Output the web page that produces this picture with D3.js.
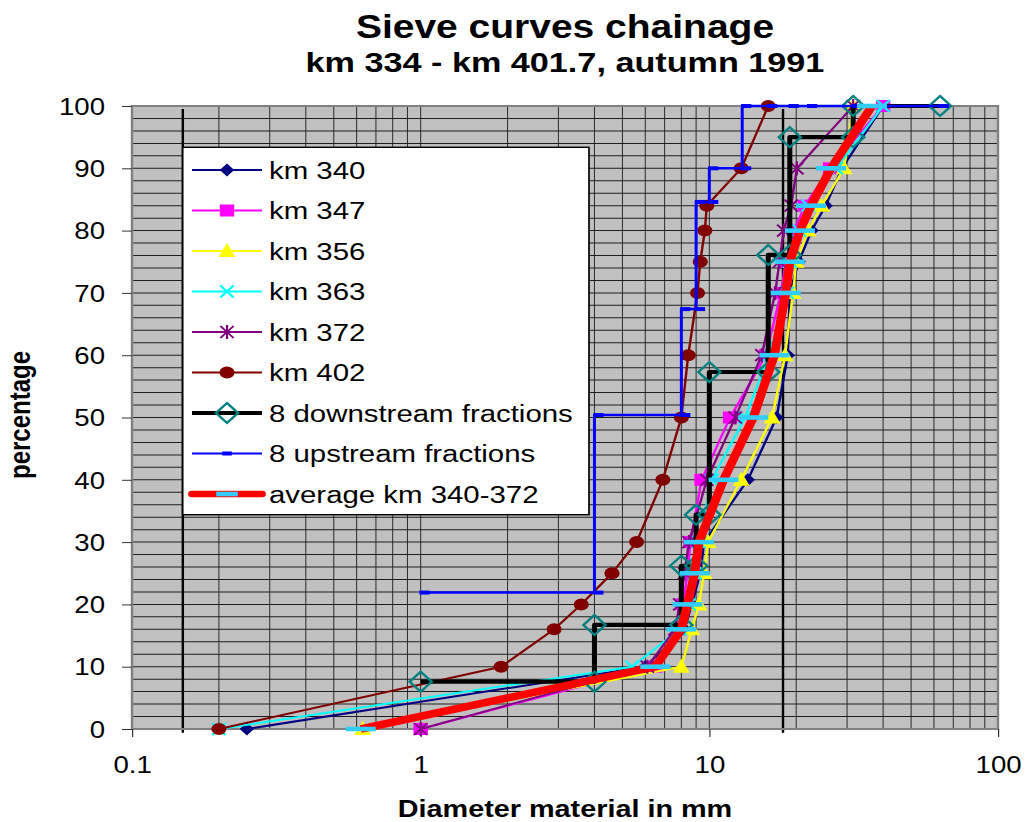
<!DOCTYPE html>
<html>
<head>
<meta charset="utf-8">
<script src="https://cdn.jsdelivr.net/npm/d3@7"></script>
<style>
  body { margin: 0; background: #fff; }
  svg { display: block; }
  text { font-family: Arial, "Liberation Sans", sans-serif; }
</style>
</head>
<body>
<svg id="chart" width="1027" height="822"></svg>
<script>
// Percent passing levels shared by the sieve curves
const levels  = [0, 10, 16, 20, 25, 30, 40, 50, 60, 70, 75, 80, 84, 90, 100];
// Grain diameter (mm) at each level, per chainage
const km340   = [0.25, 6.0, 8.2, 8.7, 9.3, 9.6, 13.6, 17.1, 18.7, 19.0, 20.4, 22.6, 25.3, 28.8, 40];
const km347   = [1.0, 6.5, 7.8, 8.1, 8.4, 8.6, 9.4, 11.8, 15.7, 17.7, 18.4, 19.7, 21.4, 26.2, 40];
const km356   = [0.63, 8.0, 8.7, 9.2, 9.6, 9.9, 12.9, 16.5, 18.3, 19.5, 20.0, 22.0, 24.5, 29.3, 31.5];
const km363   = [0.2, 5.4, 7.9, 8.5, 8.9, 9.2, 10.2, 13.3, 16.1, 18.6, 19.0, 20.5, 22.0, 27.5, 40];
const km372   = [1.0, 6.1, 7.6, 7.9, 8.2, 8.5, 9.8, 12.3, 15.2, 16.9, 17.5, 18.1, 19.2, 20.1, 31.5];
const km402   = [0.2, 1.9, 2.9, 3.6, 4.6, 5.6, 6.9, 8.0, 8.45, 9.1, 9.3, 9.65, 9.8, 12.9, 16];
const average = [0.62, 6.5, 8.0, 8.4, 8.9, 9.2, 11.2, 14.2, 16.8, 18.4, 19.0, 20.6, 22.5, 26.4, 36.6];

// Step curves of the 8 fractions (diameter, cumulative percentage)
const downX = [1, 4, 4, 8, 8, 9, 9, 10, 10, 16, 16, 19, 19, 31.5, 31.5, 63];
const downY = [7.6, 7.6, 16.7, 16.7, 26.2, 26.2, 34.4, 34.4, 57.3, 57.3, 76.1, 76.1, 95, 95, 100, 100];
const upX   = [1, 4, 4, 8, 8, 9, 9, 10, 10, 13, 13, 16, 19, 22, 31.5, 63];
const upY   = [21.9, 21.9, 50.4, 50.4, 67.4, 67.4, 84.6, 84.6, 90, 90, 100, 100, 100, 100, 100, 100];

// Vertical reference lines (mm) and their extent in percent
const limitX = [0.15, 18];
const limitSpan = [-0.6, 99.5];

const xTicks = [0.1, 1, 10, 100];
const yTicks = d3.range(0, 101, 10);

const titleLines = ["Sieve curves chainage", "km 334 - km 401.7, autumn 1991"];
const xTitle = "Diameter material in mm";
const yTitle = "percentage";

// Everything is laid out in a frame that is widened horizontally
const SX = 1.2;
const svg = d3.select("#chart");
const root = svg.append("g").attr("transform", `scale(${SX},1)`);

const L = 132 / SX, R = 998 / SX, T = 106, B = 729;
const x = d3.scaleLog().domain([0.1, 100]).range([L, R]);
const y = d3.scaleLinear().domain([0, 100]).range([B, T]);

// Plot area
root.append("rect").attr("x", L).attr("y", T).attr("width", R - L).attr("height", B - T)
  .attr("fill", "#c0c0c0");

// Grid
const grid = root.append("g").attr("stroke", "#1e1e1e").attr("stroke-width", 1);
grid.selectAll("line.h").data(d3.range(2, 100, 2)).join("line")
  .attr("x1", L).attr("x2", R).attr("y1", d => y(d)).attr("y2", d => y(d));
const minor = [];
[0.1, 1, 10].forEach(dec => { for (let k = 1; k <= 9; k++) minor.push(dec * k); });
grid.selectAll("line.v").data(minor.filter(v => v > 0.1)).join("line")
  .attr("y1", T).attr("y2", B).attr("x1", d => x(d)).attr("x2", d => x(d))
  .attr("stroke-width", 1 / SX);

// Reference verticals
root.selectAll("line.limit").data(limitX).join("line")
  .attr("x1", d => x(d)).attr("x2", d => x(d))
  .attr("y1", y(limitSpan[1])).attr("y2", y(limitSpan[0]))
  .attr("stroke", "#000").attr("stroke-width", 2.4 / SX);

// Border
root.append("rect").attr("x", L).attr("y", T).attr("width", R - L).attr("height", B - T)
  .attr("fill", "none").attr("stroke", "#808080").attr("stroke-width", 2);

// Axes
const yAxis = root.append("g").attr("transform", `translate(${L},0)`)
  .call(d3.axisLeft(y).tickValues(yTicks).tickSize(10 / SX).tickSizeOuter(0).tickPadding(17 / SX));
const xAxis = root.append("g").attr("transform", `translate(0,${B})`)
  .call(d3.axisBottom(x).tickValues(xTicks).tickFormat(d3.format("~g")).tickSize(8).tickSizeOuter(0).tickPadding(20));
[yAxis, xAxis].forEach(a => {
  a.select(".domain").remove();
  a.selectAll(".tick line").attr("stroke", "#333");
  a.selectAll(".tick text").attr("font-size", 23).attr("font-family", "Arial, 'Liberation Sans', sans-serif").attr("fill", "#000");
});
yAxis.selectAll(".tick text").attr("dy", "0.36em");
xAxis.selectAll(".tick text").attr("dy", "0.71em");

// Marker shapes (drawn in the widened frame)
function marker(g, type, cx, cy) {
  switch (type) {
    case "diamond":
      g.append("path").attr("d", `M${cx},${cy - 6.5}L${cx + 6},${cy}L${cx},${cy + 6.5}L${cx - 6},${cy}Z`)
        .attr("fill", "#000080"); break;
    case "square":
      g.append("rect").attr("x", cx - 6).attr("y", cy - 6).attr("width", 12).attr("height", 12)
        .attr("fill", "#ff00ff"); break;
    case "triangle":
      g.append("path").attr("d", `M${cx},${cy - 8}L${cx + 7},${cy + 6}L${cx - 7},${cy + 6}Z`)
        .attr("fill", "#ffff00"); break;
    case "cross":
      g.append("path").attr("d", `M${cx - 5.5},${cy - 6}L${cx + 5.5},${cy + 6}M${cx + 5.5},${cy - 6}L${cx - 5.5},${cy + 6}`)
        .attr("stroke", "#00ffff").attr("stroke-width", 2).attr("fill", "none"); break;
    case "star":
      g.append("path").attr("d", `M${cx - 5.5},${cy - 6}L${cx + 5.5},${cy + 6}M${cx + 5.5},${cy - 6}L${cx - 5.5},${cy + 6}M${cx},${cy - 7}L${cx},${cy + 7}`)
        .attr("stroke", "#800080").attr("stroke-width", 1.8).attr("fill", "none"); break;
    case "circle":
      g.append("ellipse").attr("cx", cx).attr("cy", cy).attr("rx", 6.3).attr("ry", 6)
        .attr("fill", "#800000"); break;
    case "hollow":
      g.append("path").attr("d", `M${cx},${cy - 10}L${cx + 9.2},${cy}L${cx},${cy + 10}L${cx - 9.2},${cy}Z`)
        .attr("stroke", "#008080").attr("stroke-width", 2.2).attr("fill", "none"); break;
    case "dash":
      g.append("rect").attr("x", cx - 1).attr("y", cy - 2).attr("width", 8.5).attr("height", 4)
        .attr("fill", "#0000ff"); break;
    case "bar":
      g.append("rect").attr("x", cx - 12.5).attr("y", cy - 2.3).attr("width", 25).attr("height", 4.6)
        .attr("fill", "#33ccff"); break;
  }
}

const series = [
  { name: "km 340", xs: km340, ys: levels, color: "#000080", width: 2, mark: "diamond" },
  { name: "km 347", xs: km347, ys: levels, color: "#ff00ff", width: 2, mark: "square" },
  { name: "km 356", xs: km356, ys: levels, color: "#ffff00", width: 2, mark: "triangle" },
  { name: "km 363", xs: km363, ys: levels, color: "#00ffff", width: 2, mark: "cross" },
  { name: "km 372", xs: km372, ys: levels, color: "#800080", width: 2, mark: "star" },
  { name: "km 402", xs: km402, ys: levels, color: "#800000", width: 2, mark: "circle" },
  { name: "8 downstream fractions", xs: downX, ys: downY, color: "#000000", width: 4.2, mark: "hollow" },
  { name: "8 upstream fractions", xs: upX, ys: upY, color: "#0000ff", width: 2.5, mark: "dash" },
  { name: "average km 340-372", xs: average, ys: levels, color: "#ff0000", width: 7.5, mark: "bar" }
];

const line = d3.line().x(d => x(d[0])).y(d => y(d[1]));
series.forEach(s => {
  const pts = d3.zip(s.xs, s.ys);
  const g = root.append("g");
  g.append("path").attr("d", line(pts)).attr("fill", "none")
    .attr("stroke", s.color).attr("stroke-width", s.width).attr("stroke-linejoin", "round");
  pts.forEach(p => marker(g, s.mark, x(p[0]), y(p[1])));
});

// Legend
const lg = root.append("g");
const lgX = 182.7 / SX, lgY = 147.3, lgW = (589 - 182.7) / SX, lgH = 367.4;
lg.append("rect").attr("x", lgX).attr("y", lgY).attr("width", lgW).attr("height", lgH)
  .attr("fill", "#fff").attr("stroke", "#000").attr("stroke-width", 1.4);
series.forEach((s, i) => {
  const cy = 170 + i * 40.5;
  const item = lg.append("g");
  item.append("line").attr("x1", 192 / SX).attr("x2", 262 / SX).attr("y1", cy).attr("y2", cy)
    .attr("stroke", s.color).attr("stroke-width", s.mark === "bar" ? 6.5 : (s.mark === "hollow" ? 4 : 2))
    .attr("stroke-linecap", s.mark === "bar" ? "round" : "butt");
  if (s.mark === "bar") {
    item.append("rect").attr("x", 227 / SX - 9).attr("y", cy - 2.3).attr("width", 18).attr("height", 4.6).attr("fill", "#33ccff");
  } else if (s.mark === "dash") {
    item.append("rect").attr("x", 227 / SX - 4).attr("y", cy - 2).attr("width", 8).attr("height", 4).attr("fill", "#0000ff");
  } else {
    marker(item, s.mark, 227 / SX, cy);
  }
  item.append("text").attr("x", 269 / SX).attr("y", cy + 9).attr("font-size", 24.5).text(s.name);
});

// Titles
const cx = 565 / SX;
root.append("text").attr("x", cx).attr("y", 38).attr("text-anchor", "middle")
  .attr("font-size", 32.5).attr("font-weight", "bold").text(titleLines[0]);
root.append("text").attr("x", cx).attr("y", 72).attr("text-anchor", "middle")
  .attr("font-size", 28.5).attr("font-weight", "bold").text(titleLines[1]);
root.append("text").attr("x", cx).attr("y", 817).attr("text-anchor", "middle")
  .attr("font-size", 24).attr("font-weight", "bold").text(xTitle);
root.append("text").attr("transform", `translate(${30 / SX},415) rotate(-90)`).attr("text-anchor", "middle")
  .attr("font-size", 24).attr("font-weight", "bold").text(yTitle);
</script>
</body>
</html>
